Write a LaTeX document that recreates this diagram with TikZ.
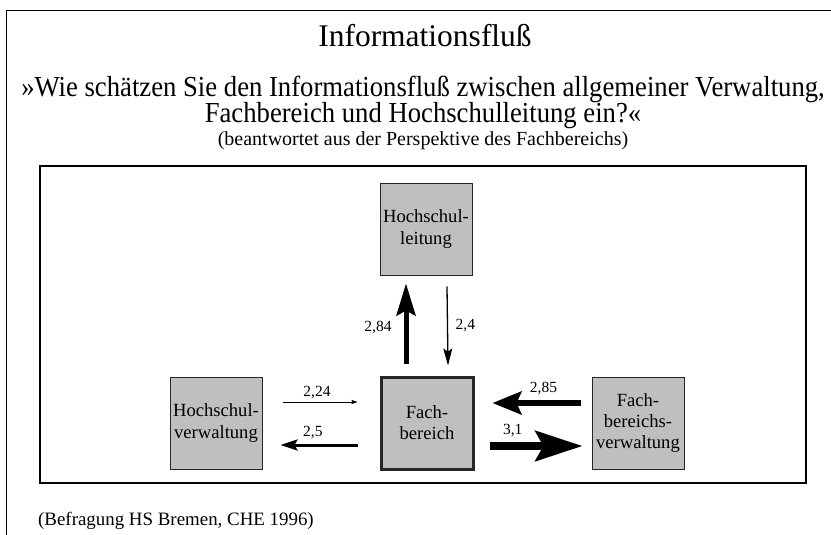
\documentclass[tikz,border=0pt]{standalone}
\usepackage{fontspec}
\setmainfont{Liberation Serif}
\newfontfamily\narrowserif[FakeStretch=0.92]{Liberation Serif}
\usetikzlibrary{arrows.meta, positioning}
\tikzset{
  unit/.style={draw=black!85, line width=1pt, fill=black!25, minimum width=92pt, minimum height=92pt,
    align=center, inner sep=2pt, font=\fontsize{18.6}{21.2}\selectfont},
  val/.style={font=\fontsize{15.5}{17}\selectfont, inner sep=1pt},
  head/.style={anchor=base, inner sep=0pt},
  question/.style={head, font=\narrowserif\fontsize{29}{26}\selectfont},
}

\begin{document}
\begin{tikzpicture}[x=1pt,y=1pt]
\useasboundingbox (0,0) rectangle (831,-535);
% frames
\draw[line width=1.5pt] (6.5,-535) -- (6.5,-10.5) -- (831,-10.5);
\draw[line width=1.5pt] (40,-166) rectangle (806,-483);

% headings
\node[head, font=\fontsize{31.5}{34}\selectfont] (title) at (425,-47) {Informationsfluß};
\node[question] (q1) at (423,-96)
     {»Wie schätzen Sie den Informationsfluß zwischen allgemeiner Verwaltung,};
\node[question] (q2) at (423,-123)
     {Fachbereich und Hochschulleitung ein?«};
\node[head, font=\fontsize{20}{22}\selectfont] (q3) at (423,-146)
     {(beantwortet aus der Perspektive des Fachbereichs)};

% units
\node[unit] (hl) at (426,-229) {Hochschul-\\leitung};
\node[unit, line width=3pt] (fb) at (427,-423) {Fach-\\bereich};
\node[unit] (hv) at (216,-423) {Hochschul-\\verwaltung};
\node[unit] (fbv) at (638,-423) {Fach-\\bereichs-\\verwaltung};

% flows
\draw[line width=5pt, -{Stealth[length=32pt, width=19pt, inset=5pt]}]
     ([xshift=-21pt,yshift=12pt]fb.north) -- node[val, pos=0.45, left=11pt] {2,84} ([xshift=-20pt,yshift=-8pt]hl.south);
\draw[line width=1.3pt, -{Stealth[length=17pt, width=9pt, inset=3pt]}]
     ([xshift=21pt,yshift=-11pt]hl.south) -- node[val, right=6.5pt] {2,4} ([xshift=21pt,yshift=10pt]fb.north);
\draw[line width=0.8pt, -{Stealth[length=6pt, width=4pt, inset=1pt]}]
     ([xshift=20pt,yshift=21pt]hv.east) -- node[val, pos=0.46, above=2pt] {2,24} ([xshift=-22pt,yshift=21pt]fb.west);
\draw[line width=3pt, -{Stealth[length=17pt, width=11pt, inset=3pt]}]
     ([xshift=-22pt,yshift=-22pt]fb.west) -- node[val, pos=0.58, above=3.6pt] {2,5} ([xshift=18pt,yshift=-22pt]hv.east);
\draw[line width=5.3pt, -{Stealth[length=29pt, width=23pt, inset=5pt]}]
     ([xshift=-11pt,yshift=20pt]fbv.west) -- node[val, pos=0.42, above=4.6pt] {2,85} ([xshift=18pt,yshift=20pt]fb.east);
\draw[line width=8pt, -{Stealth[length=47pt, width=30pt, inset=8pt]}]
     ([xshift=15pt,yshift=-23pt]fb.east) -- node[val, pos=0.25, above=4.6pt] {3,1} ([xshift=-9pt,yshift=-23pt]fbv.west);

% source
\node[anchor=base west, inner sep=0pt, font=\fontsize{18.9}{21}\selectfont] (src) at (38,-525)
     {(Befragung HS Bremen, CHE 1996)};
\end{tikzpicture}
\end{document}
